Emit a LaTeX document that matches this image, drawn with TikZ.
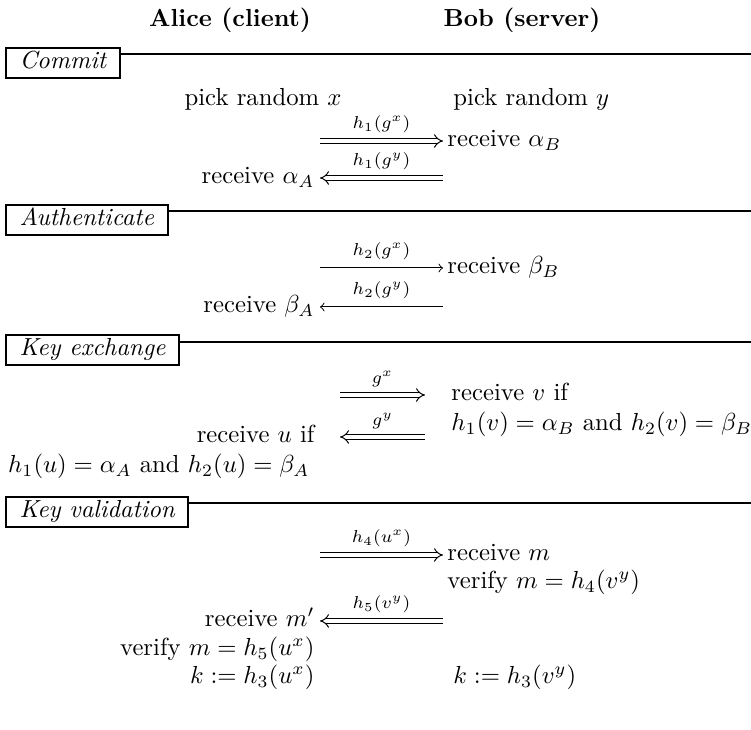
\documentclass[tikz,border=0pt]{standalone}
\usetikzlibrary{arrows}
\begin{document}
\begin{tikzpicture}[x=0.405pt,y=-0.405pt,
  sect/.style={draw, line width=0.8pt, inner xsep=5.5pt, inner ysep=1.5pt, text height=7pt, text depth=2pt, font=\itshape, anchor=north west},
  lt/.style={anchor=mid east, inner sep=0pt},
  rt/.style={anchor=mid west, inner sep=0pt},
  dbl/.style={double, double distance=1.5pt, line width=0.4pt, -implies},
  sgl/.style={line width=0.4pt, ->},
  lab/.style={font=\scriptsize, above, inner sep=3pt},
  rule/.style={line width=0.8pt}]
\useasboundingbox (0,0) rectangle (751,730);
% headers
\node[font=\bfseries] (alice) at (230,20) {Alice (client)};
\node[font=\bfseries] (bob) at (522,20) {Bob (server)};
% Commit
\node[sect] (s1) at (5,47) {Commit};
\coordinate (e1) at (751,54);
\draw[rule] (s1.east |- e1) -- (e1);
\node[lt] (pa) at (342,100) {pick random $x$};
\node[rt] (pb) at (453,100) {pick random $y$};
\coordinate (a1s) at (320,141); \coordinate (a1e) at (443,141);
\draw[dbl] (a1s) -- node[lab] (l1) {$h_1(g^x)$} (a1e);
\node[rt] (ra1) at (447,141) {receive $\alpha_B$};
\coordinate (a2s) at (443,178); \coordinate (a2e) at (320,178);
\draw[dbl] (a2s) -- node[lab] (l2) {$h_1(g^y)$} (a2e);
\node[lt] (ra2) at (315,178) {receive $\alpha_A$};
% Authenticate
\node[sect] (s2) at (5,204) {Authenticate};
\coordinate (e2) at (751,211);
\draw[rule] (s2.east |- e2) -- (e2);
\coordinate (a3s) at (320,268); \coordinate (a3e) at (443,268);
\draw[sgl] (a3s) -- node[lab] (l3) {$h_2(g^x)$} (a3e);
\node[rt] (rb1) at (447,268) {receive $\beta_B$};
\coordinate (a4s) at (443,307); \coordinate (a4e) at (320,307);
\draw[sgl] (a4s) -- node[lab] (l4) {$h_2(g^y)$} (a4e);
\node[lt] (rb2) at (315,307) {receive $\beta_A$};
% Key exchange
\node[sect] (s3) at (5,334) {Key exchange};
\coordinate (e3) at (751,342);
\draw[rule] (s3.east |- e3) -- (e3);
\coordinate (a5s) at (340,395); \coordinate (a5e) at (425,395);
\draw[dbl] (a5s) -- node[lab] (l5) {$g^x$} (a5e);
\node[rt] (rv) at (451,395) {receive $v$ if};
\node[rt] (cv) at (451,425) {$h_1(v)=\alpha_B$ and $h_2(v)=\beta_B$};
\coordinate (a6s) at (425,437); \coordinate (a6e) at (340,437);
\draw[dbl] (a6s) -- node[lab] (l6) {$g^y$} (a6e);
\node[lt] (ru) at (315,437) {receive $u$ if};
\node[lt] (cu) at (310,467) {$h_1(u)=\alpha_A$ and $h_2(u)=\beta_A$};
% Key validation
\node[sect] (s4) at (5,496) {Key validation};
\coordinate (e4) at (751,503);
\draw[rule] (s4.east |- e4) -- (e4);
\coordinate (a7s) at (320,555); \coordinate (a7e) at (443,555);
\draw[dbl] (a7s) -- node[lab] (l7) {$h_4(u^x)$} (a7e);
\node[rt] (rm) at (447,555) {receive $m$};
\node[rt] (vm) at (447,583) {verify $m=h_4(v^y)$};
\coordinate (a8s) at (443,621); \coordinate (a8e) at (320,621);
\draw[dbl] (a8s) -- node[lab] (l8) {$h_5(v^y)$} (a8e);
\node[lt] (rm2) at (315,621) {receive $m'$};
\node[lt] (vm2) at (315,650) {verify $m=h_5(u^x)$};
\node[lt] (ka) at (315,678) {$k:=h_3(u^x)$};
\node[rt] (kb) at (453,678) {$k:=h_3(v^y)$};
\end{tikzpicture}
\end{document}
